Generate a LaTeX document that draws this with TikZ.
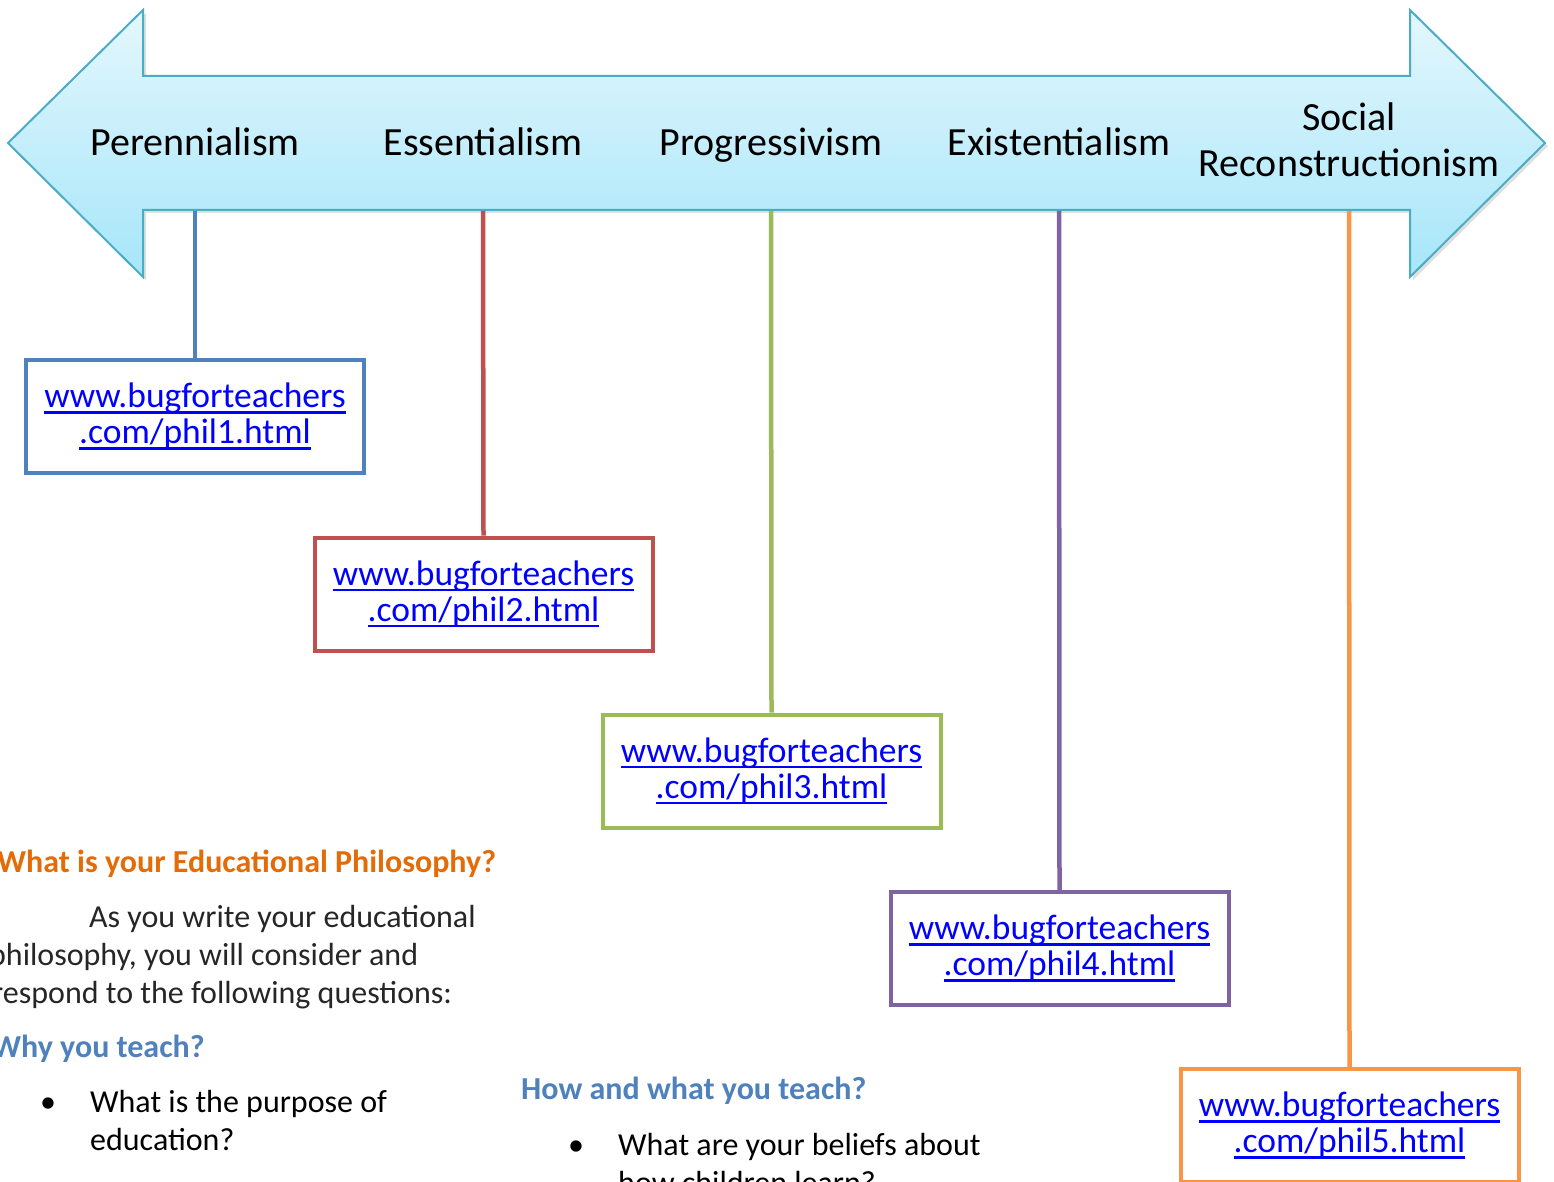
\documentclass[tikz,border=0pt]{standalone}
\usepackage{fontspec}
\setmainfont{Carlito}
\usetikzlibrary{shadows}
\definecolor{arrowtop}{HTML}{E4F7FD}
\definecolor{arrowbot}{HTML}{A6E6F9}
\definecolor{arrowedge}{HTML}{4BACC6}
\definecolor{cA}{HTML}{4F81BD}
\definecolor{cB}{HTML}{C0504D}
\definecolor{cC}{HTML}{9BBB59}
\definecolor{cD}{HTML}{8064A2}
\definecolor{cE}{HTML}{F79646}
\definecolor{headorange}{HTML}{E36C09}
\definecolor{headblue}{HTML}{4F81BD}
\definecolor{bodygray}{HTML}{262626}
\definecolor{linkblue}{HTML}{0000FF}
\newcommand\myul[1]{\setbox0\hbox{#1}\rlap{\raisebox{-6pt}{\rule{\wd0}{2.6pt}}}\box0}
\tikzset{
  philabel/.style={font=\fontsize{40}{46}\selectfont, text=black, align=center, inner sep=0pt, anchor=base},
  linkbox/.style={draw, line width=4pt, fill=white, minimum width=338pt, minimum height=113pt,
     inner sep=0pt, align=center, text=linkblue, font=\fontsize{35.5}{36}\selectfont},
  connector/.style={line width=4.5pt},
  bodytext/.style={anchor=base west, inner sep=0pt, font=\fontsize{32}{38}\selectfont, text=bodygray},
  headtext/.style={anchor=base west, inner sep=0pt, font=\bfseries\fontsize{32}{36}\selectfont},
  blacktext/.style={anchor=base west, inner sep=0pt, font=\fontsize{32}{38}\selectfont, text=black},
}
\begin{document}
\begin{tikzpicture}[x=1pt,y=-1pt]
\useasboundingbox (0,0) rectangle (1554,1182);
\begin{scope}
\clip (0,0) rectangle (1554,1182);
% big double arrow
\path[draw=arrowedge, line width=2pt, top color=arrowtop, bottom color=arrowbot,
      drop shadow={shadow xshift=3pt, shadow yshift=-3pt, opacity=0.25}]
  (8,143) -- (143,10) -- (143,76) -- (1410,76) -- (1410,10) -- (1545,143)
  -- (1410,277) -- (1410,210) -- (143,210) -- (143,277) -- cycle;
\node[philabel] (l1) at (195,156) {Perennialism};
\node[philabel] (l2) at (483,156) {Essentialism};
\node[philabel] (l3) at (771,156) {Progressivism};
\node[philabel] (l4) at (1059,156) {Existentialism};
\node[philabel] (l5) at (1349,177) {Social\\Reconstructionism};
% anchor points on the arrow's lower edge
\coordinate (p1) at (195,211);
\coordinate (p2) at (483,211);
\coordinate (p3) at (771,211);
\coordinate (p4) at (1059,211);
\coordinate (p5) at (1349,211);
% link boxes
\node[linkbox, draw=cA] (b1) at (195,416.5) {\myul{www.bugforteachers}\\\myul{.com/phil1.html}};
\node[linkbox, draw=cB] (b2) at (483.5,594) {\myul{www.bugforteachers}\\\myul{.com/phil2.html}};
\node[linkbox, draw=cC] (b3) at (771.5,771) {\myul{www.bugforteachers}\\\myul{.com/phil3.html}};
\node[linkbox, draw=cD] (b4) at (1059.5,948.5) {\myul{www.bugforteachers}\\\myul{.com/phil4.html}};
\node[linkbox, draw=cE] (b5) at (1349.5,1125.5) {\myul{www.bugforteachers}\\\myul{.com/phil5.html}};
% connectors
\draw[connector, cA] (p1) -- (b1.north);
\draw[connector, cB] (p2) -- (b2.north);
\draw[connector, cC] (p3) -- (b3.north);
\draw[connector, cD] (p4) -- (b4.north);
\draw[connector, cE] (p5) -- (b5.north);
% text block
\node[headtext, text=headorange] (h1) at (-3,872) {What is your Educational Philosophy?};
\node[bodytext] (t1) at (89,927) {As you write your educational};
\node[bodytext] (t2) at (-11,965) {philosophy, you will consider and};
\node[bodytext] (t3) at (-8,1003) {respond to the following questions:};
\node[headtext, text=headblue] (h2) at (-8,1057) {Why you teach?};
\node[blacktext] (u1) at (40,1112) {•};
\node[blacktext] (q1) at (90,1112) {What is the purpose of};
\node[blacktext] (q2) at (90,1150) {education?};
\node[headtext, text=headblue] (h3) at (521,1099) {How and what you teach?};
\node[blacktext] (u2) at (568,1155) {•};
\node[blacktext] (q3) at (618,1155) {What are your beliefs about};
\node[blacktext] (q4) at (618,1193) {how children learn?};
\end{scope}
\end{tikzpicture}
\end{document}
